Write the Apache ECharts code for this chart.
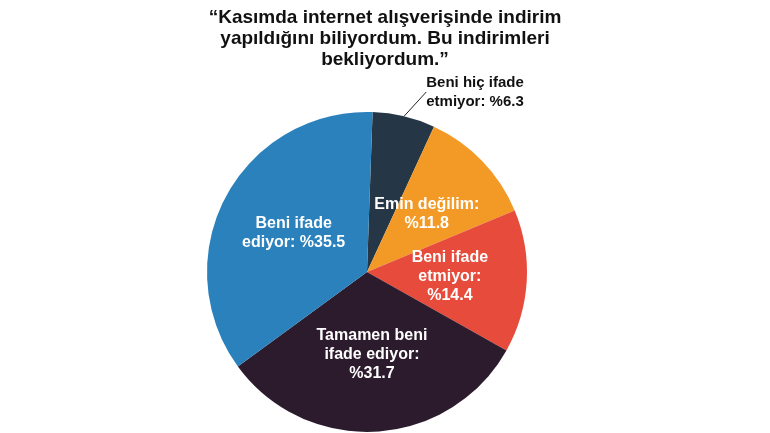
<!DOCTYPE html>
<html><head><meta charset="utf-8">
<script src="https://cdn.jsdelivr.net/npm/echarts@6/dist/echarts.min.js"></script>
<style>html,body{margin:0;background:#fff}#c{width:770px;height:433px}</style>
</head><body><div id="c"></div>
<script>
// dilimler saat yönünde, tepeden başlayarak
const labels = ['Beni hiç ifade\netmiyor: %6.3', 'Emin değilim:\n%11.8', 'Beni ifade\netmiyor:\n%14.4', 'Tamamen beni\nifade ediyor:\n%31.7', 'Beni ifade\nediyor: %35.5'];
const values = [6.3, 11.8, 14.4, 31.7, 35.5];
const colors = ['#253746', '#f39a26', '#e64b3b', '#2c1a2d', '#2a81bb'];

const font = '"Liberation Sans Narrow", "Liberation Sans", sans-serif';
const chart = echarts.init(document.getElementById('c'));
chart.setOption({
    title: {
        text: '“Kasımda internet alışverişinde indirim\nyapıldığını biliyordum. Bu indirimleri\nbekliyordum.”',
        left: 380, top: 2, textAlign: 'center',
        textStyle: { fontFamily: font, fontSize: 19, fontWeight: 'bold', color: '#111', lineHeight: 21 }
    },
    series: [{
        type: 'pie',
        center: [367, 272],
        radius: 160,
        startAngle: 88,
        clockwise: true,
        silent: true,
        data: values.map((v, i) => ({
            value: v,
            name: labels[i],
            itemStyle: { color: colors[i] },
            label: i === 0
                ? { position: 'outside', color: '#111', fontSize: 15, align: 'center' }
                : { position: 'inside', color: '#fff', fontSize: 16 },
            labelLine: i === 0 ? { show: true, length: 20, length2: 0, lineStyle: { color: '#222', width: 1 } } : { show: false }
        })),
        label: { formatter: '{b}', fontFamily: font, fontWeight: 'bold', lineHeight: 19 },
        labelLayout: (p) => p.dataIndex === 0 ? { x: 475, y: 92, align: 'center', verticalAlign: 'middle' } : {}
    }]
});
</script></body></html>
